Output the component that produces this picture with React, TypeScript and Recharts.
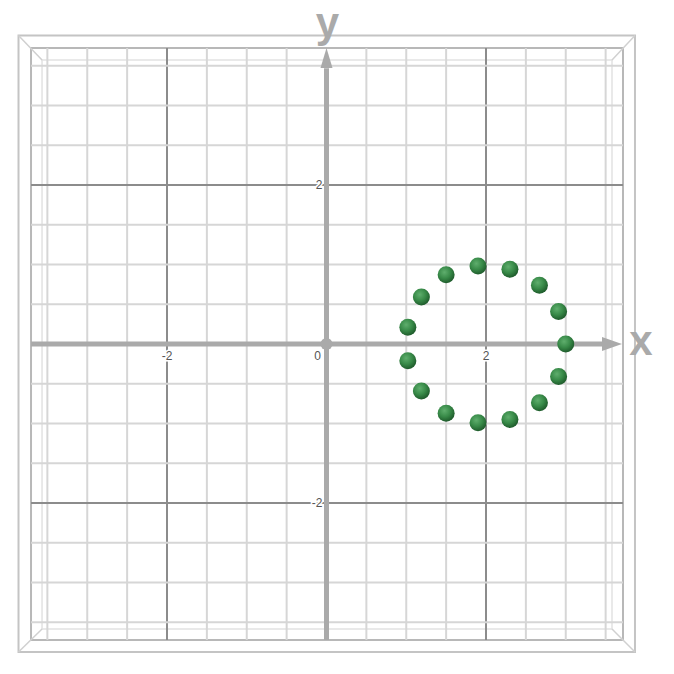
import { ScatterChart, Scatter, XAxis, YAxis, ReferenceLine, ReferenceArea } from 'recharts';

// grid values, every half unit (0 is the axis itself)
const gridValues = [-3.5, -3, -2.5, -2, -1.5, -1, -0.5, 0.5, 1, 1.5, 2, 2.5, 3, 3.5];
const majorValues = [-2, 2];
const xTickValues = [-2, 0, 2];
const yTickValues = [-2, 2];

// green balls
const ballX = [1.9, 2.3, 2.67, 2.91, 3.0, 2.91, 2.67, 2.3, 1.9, 1.5, 1.19, 1.02, 1.02, 1.19, 1.5];
const ballY = [0.98, 0.94, 0.74, 0.41, 0, -0.41, -0.74, -0.95, -0.99, -0.87, -0.59, -0.21, 0.21, 0.59, 0.87];

const balls = ballX.map((x, i) => ({ x, y: ballY[i] }));

// box frames (front, middle, back) in data units
const OUTER = { x1: -3.862, x2: 3.868, y1: -3.874, y2: 3.88 };
const INNER = { x1: -3.705, x2: 3.718, y1: -3.723, y2: 3.723 };
const BACK = { x1: -3.567, x2: 3.58, y1: -3.585, y2: 3.572 };

const AXIS = '#aaaaaa';
const FONT = '"Liberation Sans", Arial, sans-serif';

const arrows = [
  { x: 3.705, y: 0, name: 'x' },
  { x: 0, y: 3.723, name: 'y' },
];

const xTicks = xTickValues.map((v) => ({ x: v, y: 0, text: String(v) }));
const yTicks = yTickValues.map((v) => ({ x: 0, y: v, text: String(v) }));

function Ball(props: any) {
  const { cx, cy } = props;
  return <circle cx={cx} cy={cy} r={8.5} fill="url(#ballGrad)" />;
}

function Arrow(props: any) {
  const { cx, cy, payload } = props;
  if (payload.name === 'x') {
    return (
      <g>
        <polygon points={`${cx},${cy} ${cx - 20},${cy - 7} ${cx - 20},${cy + 7}`} fill={AXIS} />
        <text x={cx + 19} y={cy + 11} textAnchor="middle" fontSize={42} fontWeight="bold" fill={AXIS} fontFamily={FONT}>
          x
        </text>
      </g>
    );
  }
  return (
    <g>
      <polygon points={`${cx},${cy} ${cx - 6},${cy + 20} ${cx + 6},${cy + 20}`} fill={AXIS} />
      <text x={cx + 1} y={cy - 11} textAnchor="middle" fontSize={42} fontWeight="bold" fill={AXIS} fontFamily={FONT}>
        y
      </text>
    </g>
  );
}

function XTick(props: any) {
  const { cx, cy, payload } = props;
  const dx = payload.x === 0 ? -9 : 0;
  return (
    <text x={cx + dx} y={cy + 16} textAnchor="middle" fontSize={12} fill="#555" fontFamily={FONT}
      stroke="#fff" strokeWidth={3} paintOrder="stroke">
      {payload.text}
    </text>
  );
}

function YTick(props: any) {
  const { cx, cy, payload } = props;
  return (
    <text x={cx - 4} y={cy + 4} textAnchor="end" fontSize={12} fill="#555" fontFamily={FONT}
      stroke="#fff" strokeWidth={3} paintOrder="stroke">
      {payload.text}
    </text>
  );
}

function OriginDot(props: any) {
  const { cx, cy } = props;
  return <circle cx={cx} cy={cy} r={6} fill={AXIS} />;
}

export default function App() {
  return (
    <div style={{ position: 'absolute', left: 0, top: 0, background: '#fff' }}>
      <svg width={0} height={0} style={{ position: 'absolute' }}>
        <defs>
          <radialGradient id="ballGrad" cx="40%" cy="35%" r="65%">
            <stop offset="0%" stopColor="#5fae6d" />
            <stop offset="55%" stopColor="#388a48" />
            <stop offset="100%" stopColor="#1f5c2c" />
          </radialGradient>
        </defs>
      </svg>
      <ScatterChart width={674} height={674} margin={{ top: 26, right: 28.5, bottom: 12, left: 7.5 }}>
        <XAxis type="number" dataKey="x" domain={[-4, 4]} hide />
        <YAxis type="number" dataKey="y" domain={[-4, 4]} hide />

        {/* box frames */}
        <ReferenceArea {...BACK} fill="none" stroke="#e2e2e2" strokeWidth={1.5} ifOverflow="visible" />
        <ReferenceArea {...OUTER} fill="none" stroke="#c4c4c4" strokeWidth={2} ifOverflow="visible" />
        <ReferenceArea {...INNER} fill="none" stroke="#b8b8b8" strokeWidth={2} ifOverflow="visible" />
        <ReferenceLine segment={[{ x: OUTER.x1, y: OUTER.y2 }, { x: BACK.x1, y: BACK.y2 }]} stroke="#d0d0d0" strokeWidth={1.5} ifOverflow="visible" />
        <ReferenceLine segment={[{ x: OUTER.x2, y: OUTER.y2 }, { x: BACK.x2, y: BACK.y2 }]} stroke="#d0d0d0" strokeWidth={1.5} ifOverflow="visible" />
        <ReferenceLine segment={[{ x: OUTER.x1, y: OUTER.y1 }, { x: BACK.x1, y: BACK.y1 }]} stroke="#d0d0d0" strokeWidth={1.5} ifOverflow="visible" />
        <ReferenceLine segment={[{ x: OUTER.x2, y: OUTER.y1 }, { x: BACK.x2, y: BACK.y1 }]} stroke="#d0d0d0" strokeWidth={1.5} ifOverflow="visible" />

        {/* grid */}
        {gridValues.map((v) => (
          <ReferenceLine
            key={`v${v}`}
            segment={[{ x: v, y: INNER.y1 }, { x: v, y: INNER.y2 }]}
            stroke={majorValues.includes(v) ? '#8c8c8c' : '#d6d6d6'}
            strokeWidth={2}
            ifOverflow="visible"
          />
        ))}
        {gridValues.map((v) => (
          <ReferenceLine
            key={`h${v}`}
            segment={[{ x: INNER.x1, y: v }, { x: INNER.x2, y: v }]}
            stroke={majorValues.includes(v) ? '#8c8c8c' : '#d6d6d6'}
            strokeWidth={2}
            ifOverflow="visible"
          />
        ))}

        {/* axes */}
        <ReferenceLine segment={[{ x: INNER.x1, y: 0 }, { x: 3.46, y: 0 }]} stroke={AXIS} strokeWidth={5} ifOverflow="visible" />
        <ReferenceLine segment={[{ x: 0, y: INNER.y1 }, { x: 0, y: 3.47 }]} stroke={AXIS} strokeWidth={5} ifOverflow="visible" />

        <Scatter data={arrows} shape={<Arrow />} isAnimationActive={false} />
        <Scatter data={[{ x: 0, y: 0 }]} shape={<OriginDot />} isAnimationActive={false} />
        <Scatter data={xTicks} shape={<XTick />} isAnimationActive={false} />
        <Scatter data={yTicks} shape={<YTick />} isAnimationActive={false} />
        <Scatter data={balls} shape={<Ball />} isAnimationActive={false} />
      </ScatterChart>
    </div>
  );
}
